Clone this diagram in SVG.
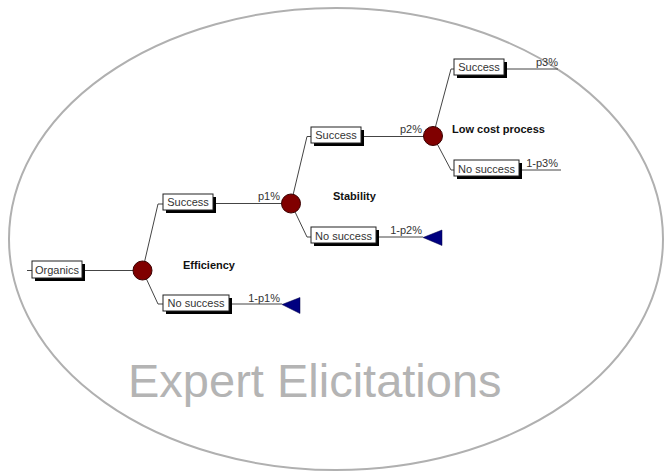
<svg xmlns="http://www.w3.org/2000/svg" width="664" height="472" viewBox="0 0 664 472">
<style>
.bx{fill:#fff;stroke:#222;stroke-width:1}
.sh{fill:#000}
.t{font-family:"Liberation Sans",Arial,sans-serif;font-size:11px;fill:#333}
.b{font-family:"Liberation Sans",Arial,sans-serif;font-size:11px;font-weight:bold;fill:#111}
.ln{stroke:#444;stroke-width:1;fill:none}
.ch{fill:#800000;stroke:#3a0000;stroke-width:1}
.tr{fill:#000080;stroke:#000040;stroke-width:0.5}
</style>
<rect width="664" height="472" fill="#fff"/>
<ellipse cx="336" cy="239" rx="327" ry="231" fill="none" stroke="#b0b0b0" stroke-width="2"/>
<g id="connectors">
<path class="ln" d="M27 270.5H32M82 270.5H142.5"/>
<path class="ln" d="M142.5 270.5L158 204H163M142.5 270.5L158 304H163"/>
<path class="ln" d="M213 203.5H291M229 304H282"/>
<path class="ln" d="M291 203.5L307 136.5H311M291 203.5L307 237H311"/>
<path class="ln" d="M361 136.5H433M376 237H423"/>
<path class="ln" d="M433 136L451 69H454M433 136L451 170H454"/>
<path class="ln" d="M504 69H558M519 170H561"/>
</g>
<g id="organics">
<rect class="sh" x="35" y="264" width="50" height="17"/>
<rect class="bx" x="32" y="261" width="50" height="17"/>
<text class="t" x="57" y="274" text-anchor="middle">Organics</text>
</g>
<g id="chance1"><circle class="ch" cx="142.5" cy="270.5" r="9.5"/></g>
<g id="success1">
<rect class="sh" x="166" y="197" width="50" height="16"/>
<rect class="bx" x="163" y="194" width="50" height="16"/>
<text class="t" x="188" y="206" text-anchor="middle">Success</text>
</g>
<g id="nosuccess1">
<rect class="sh" x="166" y="298" width="66" height="16"/>
<rect class="bx" x="163" y="295" width="66" height="16"/>
<text class="t" x="196" y="307" text-anchor="middle">No success</text>
</g>
<text class="b" x="183" y="268.5">Efficiency</text>
<text class="t" x="280" y="200" text-anchor="end">p1%</text>
<text class="t" x="280" y="301.5" text-anchor="end">1-p1%</text>
<g id="end1"><polygon class="tr" points="282,304.5 300,297.5 300,313.5"/></g>
<g id="chance2"><circle class="ch" cx="291" cy="203.5" r="9.5"/></g>
<g id="success2">
<rect class="sh" x="314" y="130" width="50" height="16"/>
<rect class="bx" x="311" y="127" width="50" height="16"/>
<text class="t" x="336" y="139" text-anchor="middle">Success</text>
</g>
<g id="nosuccess2">
<rect class="sh" x="314" y="230" width="65" height="16"/>
<rect class="bx" x="311" y="227" width="65" height="16"/>
<text class="t" x="343.5" y="239.5" text-anchor="middle">No success</text>
</g>
<text class="b" x="333" y="200">Stability</text>
<text class="t" x="422" y="133" text-anchor="end">p2%</text>
<text class="t" x="422" y="233.5" text-anchor="end">1-p2%</text>
<g id="end2"><polygon class="tr" points="423,237.5 442,230 442,245.5"/></g>
<g id="chance3"><circle class="ch" cx="433" cy="136" r="9.5"/></g>
<g id="success3">
<rect class="sh" x="457" y="62" width="50" height="16"/>
<rect class="bx" x="454" y="59" width="50" height="16"/>
<text class="t" x="479" y="71" text-anchor="middle">Success</text>
</g>
<g id="nosuccess3">
<rect class="sh" x="457" y="163" width="65" height="16"/>
<rect class="bx" x="454" y="160" width="65" height="16"/>
<text class="t" x="486.5" y="172.5" text-anchor="middle">No success</text>
</g>
<text class="b" x="452" y="132.5">Low cost process</text>
<text class="t" x="558" y="65.5" text-anchor="end">p3%</text>
<text class="t" x="558" y="166.5" text-anchor="end">1-p3%</text>
<text x="128" y="397" font-family="'Liberation Sans',Arial,sans-serif" font-size="47" fill="#b4b4b4">Expert Elicitations</text>
</svg>
